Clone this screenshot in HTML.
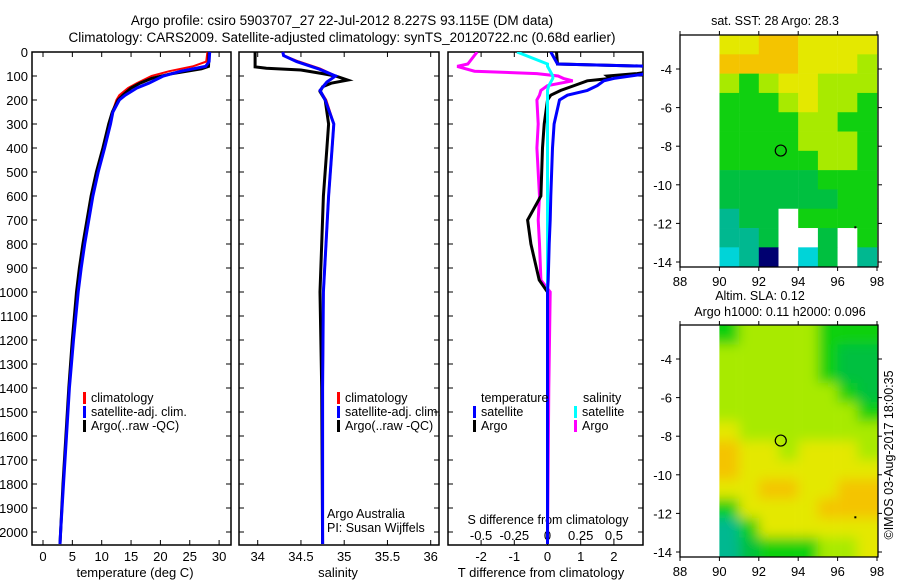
<!DOCTYPE html>
<html><head><meta charset="utf-8">
<style>
body{margin:0;background:#fff;}
svg{display:block;font-family:"Liberation Sans",sans-serif;}
text{fill:#000;}
</style></head>
<body>
<svg id="c" width="900" height="580" viewBox="0 0 900 580" xmlns="http://www.w3.org/2000/svg">
<text x="342" y="25" font-size="13.5" text-anchor="middle">Argo profile: csiro 5903707_27 22-Jul-2012 8.227S 93.115E (DM data)</text>
<text x="342" y="42" font-size="13.5" text-anchor="middle">Climatology: CARS2009. Satellite-adjusted climatology: synTS_20120722.nc (0.68d earlier)</text>
<g id="g"></g>
</svg>
<script>
// ---- data ----
const tDepth=[0,60,70,90,110,130,150,180,200,250,300,400,500,600,700,800,900,1000,1200,1400,1600,1800,2000,2050];
const tArgo=[28.3,28.2,27,22,18.5,16.5,15,13.6,12.8,11.8,11.2,10.2,9.1,8.2,7.5,6.8,6.2,5.7,5.0,4.4,3.9,3.4,3.0,2.9];
const tClimDepth=[0,40,60,80,100,130,150,180,200,250,300,400,500,600,700,800,900,1000,1200,1400,1600,1800,2000,2050];
const tClim=[28,27.8,25.5,21.5,18.5,16,14.5,13,12.5,11.8,11.4,10.4,9.3,8.4,7.7,7.0,6.4,5.9,5.1,4.5,4.0,3.5,3.0,2.9];
const tSat=[28.4,28.3,27.7,23.5,20.5,18,16,14,13,11.9,11.5,10.5,9.4,8.5,7.8,7.1,6.5,6.0,5.2,4.5,4.0,3.5,3.0,2.9];
const sArgoDepth=[0,62,68,75,90,100,117,130,145,165,200,300,400,600,800,1000,1400,2050];
const sArgo=[33.97,33.97,34.1,34.5,34.75,34.9,35.04,34.85,34.75,34.72,34.78,34.82,34.8,34.76,34.74,34.72,34.74,34.75];
const sClimDepth=[0,15,40,70,100,125,160,200,300,400,600,800,1000,1400,2050];
const sClim=[34.29,34.3,34.47,34.72,34.9,34.8,34.72,34.79,34.88,34.86,34.82,34.79,34.76,34.75,34.75];
const sSat=[34.29,34.3,34.45,34.7,34.9,34.8,34.72,34.78,34.88,34.86,34.82,34.79,34.76,34.75,34.75];
const dDepth=[0,50,60,80,90,100,110,120,140,160,180,200,300,400,600,700,800,950,1000,1400,2050];
const dTArgo=[0.27,0.3,3.2,3.2,2.7,1.8,1.9,1.2,0.8,0.4,0.1,0,-0.1,-0.15,-0.2,-0.6,-0.5,-0.25,0,0,0];
const dTSat=[0.1,0.3,3.2,3.2,3,2.5,2,1.7,1.5,1.2,0.6,0.36,0.2,0.15,0.1,0.08,0.05,0.02,0,0,0];
const dSArgo=[-0.53,-0.6,-0.68,-0.55,-0.08,0.08,0.12,0.19,0,-0.05,-0.06,-0.08,-0.07,-0.08,-0.06,-0.07,-0.06,-0.05,0.02,0.01,0];
const dSSat=[-0.23,0,0,0.02,0.03,0.04,0.04,0.03,0.01,0,0,0,0,0,0,0,0,0,0,0,0];
const tTicks=[0,5,10,15,20,25,30];
const sTicks=[34,34.5,35,35.5,36];
const dTTicks=[-2,-1,0,1,2];
const dSTicks=[-0.5,-0.25,0,0.25,0.5];
const depthTicks=[0,100,200,300,400,500,600,700,800,900,1000,1100,1200,1300,1400,1500,1600,1700,1800,1900,2000];
const lonTicks=[88,90,92,94,96,98];
const latTicks=[-4,-6,-8,-10,-12,-14];
// map grids: 8 cols (90..98 deg), 12 rows (-2.3 .. -14.3)
const sstGrid=["YYOOYYYY","OOOOYYYL","LGLYYLLL","GGGLYLLG","GGGGLLGG","GGGGLLLG","GGGGGLLG","gggggGGG","ggggggGG","TggWGGGG","TTgWWgWG","CTNWCgWT"];
const slaGrid=["GLLLLGGG","LLLLLGgg","LLLLLGgg","LLLLLLGg","LLLLLLLG","YLLLLLLL","OYYLYYYL","OYYYYYYY","YYOOYYOO","GYYYYOOO","TGYYYYYY","TgGGGLLY"];
const colorKey={Y:"#e4e800",O:"#f4c400",L:"#a8ea00",G:"#10d010",g:"#00c040",T:"#00b890",C:"#00d4d8",N:"#000070",W:"#ffffff"};

const NS="http://www.w3.org/2000/svg";
const G=document.getElementById('g');
function mk(tag,attrs,parent){const e=document.createElementNS(NS,tag);for(const k in attrs)e.setAttribute(k,attrs[k]);(parent||G).appendChild(e);return e;}
const yD=d=>52+d*0.24;

function polyline(xs,ds,xf,color,w,name){
  const pts=xs.map((v,i)=>xf(v).toFixed(1)+","+yD(ds[i]).toFixed(1)).join(" ");
  const p=mk('polyline',{points:pts,fill:"none",stroke:color,"stroke-width":w,"stroke-linejoin":"miter"});
  
  
}
function frame(x0,x1,name){
  const r=mk('rect',{x:x0,y:52,width:x1-x0,height:493,fill:"none",stroke:"#000","stroke-width":1.5});
  
  
  depthTicks.forEach(d=>{const y=yD(d);mk('line',{x1:x0,x2:x0+5,y1:y,y2:y,stroke:"#000"});mk('line',{x1:x1-5,x2:x1,y1:y,y2:y,stroke:"#000"});});
}
function text(x,y,s,size,anchor,name){const t=mk('text',{x:x,y:y,"font-size":size,"text-anchor":anchor||"start"});t.textContent=s;
  
  return t;}

// Panel 1 temperature
const xT=v=>43+v*5.87;
frame(32,231,'temperature-panel-frame');
depthTicks.forEach(d=>text(28,yD(d)+5,String(d),13,"end",'depth-tick-label'));
tTicks.forEach(v=>{const x=xT(v);mk('line',{x1:x,x2:x,y1:52,y2:57,stroke:"#000"});mk('line',{x1:x,x2:x,y1:540,y2:545,stroke:"#000"});text(x,561,String(v),13,"middle",'temperature-tick-label');});
text(135,577,"temperature (deg C)",13,"middle",'temperature-axis-title');
polyline(tClim,tClimDepth,xT,"#ff0000",2,'temperature-climatology-line');
polyline(tArgo,tDepth,xT,"#000",3,'temperature-argo-line');
polyline(tSat,tClimDepth,xT,"#0000ff",3,'temperature-satellite-line');
function legend(x,y,items,pfx){items.forEach((it,i)=>{const yy=y+i*14;mk('rect',{x:x,y:yy-10,width:3,height:12,fill:it[1]});text(x+8,yy,it[0],12.5,"start",pfx+'-legend-entry');});}
legend(83,402,[["climatology","#ff0000"],["satellite-adj. clim.","#0000ff"],["Argo(..raw -QC)","#000"]],'temperature');

// Panel 2 salinity
const xS=v=>257.7+(v-34)*86.5;
frame(239,439,'salinity-panel-frame');
sTicks.forEach(v=>{const x=xS(v);mk('line',{x1:x,x2:x,y1:52,y2:57,stroke:"#000"});mk('line',{x1:x,x2:x,y1:540,y2:545,stroke:"#000"});text(x,561,String(v),13,"middle",'salinity-tick-label');});
text(338,577,"salinity",13,"middle",'salinity-axis-title');
polyline(sClim,sClimDepth,xS,"#ff0000",2.5,'salinity-climatology-line');
polyline(sArgo,sArgoDepth,xS,"#000",3,'salinity-argo-line');
polyline(sSat,sClimDepth,xS,"#0000ff",3,'salinity-satellite-line');
legend(337,402,[["climatology","#ff0000"],["satellite-adj. clim.","#0000ff"],["Argo(..raw -QC)","#000"]],'salinity');
text(327,518,"Argo Australia",12.5,"start",'credit-line-1');
text(327,532,"PI: Susan Wijffels",12.5,"start",'credit-line-2');

// Panel 3 differences
const xDT=v=>547.5+v*33.2;
const xDS=v=>547.5+v*132.8;
const clip=mk('clipPath',{id:"p3"});mk('rect',{x:448,y:52,width:195,height:493},clip);
frame(448,643,'difference-panel-frame');
dTTicks.forEach(v=>{const x=xDT(v);mk('line',{x1:x,x2:x,y1:540,y2:545,stroke:"#000"});text(x,561,String(v),13,"middle",'t-diff-tick-label');});
dSTicks.forEach(v=>{const x=xDS(v);mk('line',{x1:x,x2:x,y1:52,y2:57,stroke:"#000"});text(x,540,String(v),13,"middle",'s-diff-tick-label');});
text(548,524,"S difference from climatology",12.5,"middle",'s-diff-axis-title');
text(541,577,"T difference from climatology",13,"middle",'t-diff-axis-title');
const gp=mk('g',{"clip-path":"url(#p3)"});
[[dSArgo,xDS,"#ff00ff",3,'s-diff-argo-line'],[dTArgo,xDT,"#000",3,'t-diff-argo-line'],[dSSat,xDS,"#00ffff",3,'s-diff-satellite-line'],[dTSat,xDT,"#0000ff",3,'t-diff-satellite-line']].forEach(a=>{
  const pts=a[0].map((v,i)=>a[1](v).toFixed(1)+","+yD(dDepth[i]).toFixed(1)).join(" ");
  const p=mk('polyline',{points:pts,fill:"none",stroke:a[2],"stroke-width":a[3]},gp);
  
  
});
text(481,402,"temperature",12.5,"start",'temperature-legend-title');
text(583,402,"salinity",12.5,"start",'salinity-legend-title');
legend(473,416,[["satellite","#0000ff"],["Argo","#000"]],'t-diff');
legend(574,416,[["satellite","#00ffff"],["Argo","#ff00ff"]],'s-diff');

// Maps
const xL=v=>680+(v-88)*19.7;
function drawMap(top,grid,name,blur){
  const yl=v=>top+34+(-4-v)*19.3;
  const cid="m"+top;
  const cp=mk('clipPath',{id:cid});mk('rect',{x:xL(90),y:top,width:878-xL(90),height:232},cp);
  const mg=mk('g',{"clip-path":"url(#"+cid+")"});
  const inner=mk('g',blur?{filter:"url(#bl)"}:{},mg);
  const nr=grid.length;
  grid.forEach((row,r)=>{for(let c=0;c<row.length;c++){
    const lat=-2.24-r; const lon=90+c;
    let x=xL(lon),y=yl(lat),w=19.9,h=19.6;
    if(blur){
      if(c===0){x-=30;w+=30;}
      if(c===row.length-1){w+=30;}
      if(r===0){y-=30;h+=30;}
      if(r===nr-1){h+=30;}
    }
    const cell=mk('rect',{x:x,y:y,width:w,height:h,fill:colorKey[row[c]]},inner);
    
    
  }});
  const fr=mk('rect',{x:680,y:top,width:198,height:232,fill:"none",stroke:"#000","stroke-width":1.3});
  
  
  lonTicks.forEach(v=>{const x=xL(v);mk('line',{x1:x,x2:x,y1:top-4,y2:top,stroke:"#000"});mk('line',{x1:x,x2:x,y1:top+232,y2:top+236,stroke:"#000"});text(x,top+251,String(v),13,"middle",'longitude-tick-label');});
  latTicks.forEach(v=>{const y=yl(v);mk('line',{x1:676,x2:680,y1:y,y2:y,stroke:"#000"});mk('line',{x1:878,x2:882,y1:y,y2:y,stroke:"#000"});text(672,y+5,String(v),13,"end",'latitude-tick-label');});
  const c=mk('circle',{cx:xL(93.115),cy:yl(-8.227),r:5.5,fill:"none",stroke:"#000","stroke-width":1.2});
  
  
  mk('rect',{x:xL(96.85),y:yl(-12.15),width:2,height:2,fill:"#000"});
}
const defs=mk('defs',{});const f=mk('filter',{id:"bl",x:"-20%",y:"-20%",width:"140%",height:"140%"},defs);mk('feGaussianBlur',{stdDeviation:"6"},f);
drawMap(35,sstGrid,"sst-map",false);
text(775,25,"sat. SST: 28 Argo: 28.3",12.5,"middle",'sst-map-title');
drawMap(325,slaGrid,"sla-map",true);
text(760,300,"Altim. SLA: 0.12",12.5,"middle",'sla-map-title-1');
text(780,316,"Argo h1000: 0.11 h2000: 0.096",12.5,"middle",'sla-map-title-2');
const dt=text(0,0,"©IMOS 03-Aug-2017 18:00:35",12.5,"middle",'timestamp-label');
dt.setAttribute('transform','translate(893,455) rotate(-90)');
</script>
</body></html>
